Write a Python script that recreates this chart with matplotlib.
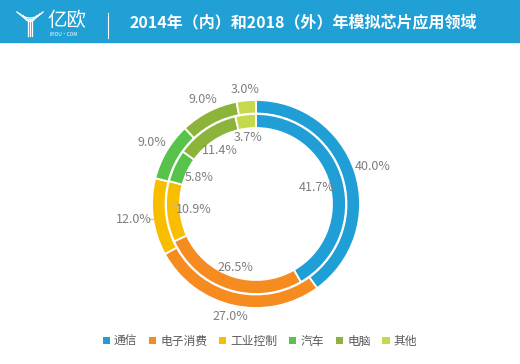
import numpy as np
import matplotlib
matplotlib.use("Agg")
import matplotlib.pyplot as plt
from matplotlib.patches import Rectangle, Patch
from matplotlib.lines import Line2D

plt.rcParams['font.family'] = ['Noto Sans CJK SC', 'DejaVu Sans']

categories = ['通信', '电子消费', '工业控制', '汽车', '电脑', '其他']
outer_2018 = [40.0, 27.0, 12.0, 9.0, 9.0, 3.0]
inner_2014 = [41.7, 26.5, 10.9, 5.8, 11.4, 3.7]
colors = ['#1f9fd6', '#f68b1f', '#f9bd00', '#58c34a', '#8db43a', '#c6d84b']
title = '2014年（内）和2018（外）年模拟芯片应用领域'

W, H = 520, 364
fig = plt.figure(figsize=(W / 100, H / 100), dpi=100)
fig.patch.set_facecolor('white')
ax = fig.add_axes([0, 0, 1, 1])

cx, cy = 256, H - 204
R_out = 104
w_out = 13.5
R_in = R_out - w_out - 0.5
w_in = 14

ax.pie(outer_2018, radius=R_out, center=(cx, cy), colors=colors, startangle=90,
       counterclock=False, wedgeprops=dict(width=w_out, edgecolor='white', linewidth=1.3))
ax.pie(inner_2014, radius=R_in, center=(cx, cy), colors=colors, startangle=90,
       counterclock=False, wedgeprops=dict(width=w_in, edgecolor='white', linewidth=1.3))
ax.set_xlim(0, W)
ax.set_ylim(0, H)
ax.set_aspect('auto')
ax.axis('off')

lab_col = '#7f7f7f'
fs = 9

def mids(vals):
    c = np.cumsum([0] + list(vals))
    return [(c[i] + c[i + 1]) / 2 / 100 * 360 for i in range(len(vals))]

# outer labels
for i, (v, a) in enumerate(zip(outer_2018, mids(outer_2018))):
    t = np.radians(a)
    s, c = np.sin(t), np.cos(t)
    r = R_out + 5 + np.hypot(14 * s, 6 * c)
    x, y = cx + r * s, cy + r * c
    ax.text(x, y, f'{v:.1f}%', ha='center', va='center', color=lab_col, fontsize=fs)
    if i == 2:
        ax.add_line(Line2D([x + 15, cx + (R_out - 1) * s], [y, y], color='#bfbfbf', lw=0.8))

# inner labels
for i, (v, a) in enumerate(zip(inner_2014, mids(inner_2014))):
    t = np.radians(a)
    s, c = np.sin(t), np.cos(t)
    r = 70 - 0.5 * np.hypot(16 * s, 6 * c)
    x, y = cx + r * s, cy + r * c
    ax.text(x, y, f'{v:.1f}%', ha='center', va='center', color=lab_col, fontsize=fs)
    if i == 2:
        ax.add_line(Line2D([x - 15, x - 22], [y + 1, y + 5], color='#bfbfbf', lw=0.8))

# header
hdr = '#21a0d5'
ax.add_patch(Rectangle((0, H - 42), W, 42, color=hdr, zorder=5))
# logo: stylised Y
for k, off in enumerate([0, 3, 6]):
    xs = np.linspace(-1, 1, 30)
    ax.plot(30 + xs * (13 - off), H - 12 - 6 * (1 - xs ** 2) - off * 0.6, color='white', lw=1.0, zorder=6)
for dx in [-2, 0, 2]:
    ax.plot([30 + dx, 30 + dx], [H - 20, H - 36], color='white', lw=0.9, zorder=6)
ax.text(47, H - 20, '亿欧', color='white', fontsize=14, ha='left', va='center', zorder=6)
ax.text(50, H - 35, 'IYIOU·COM', color='white', fontsize=3.5, ha='left', va='center', zorder=6)
ax.plot([108, 108], [H - 13, H - 38], color='white', lw=0.8, zorder=6)
ax.text(129, H - 22, title, color='white', fontsize=11.5, fontweight='bold',
        ha='left', va='center', zorder=6)

# legend
handles = [Patch(facecolor=col, edgecolor='none') for col in colors]
leg = fig.legend(handles, categories, loc='center', bbox_to_anchor=(0.5, 1 - 341 / H),
                 ncol=6, frameon=False, fontsize=8.5, handlelength=0.6, handleheight=0.6,
                 handletextpad=0.35, columnspacing=1.0, labelcolor='#595959')

fig.savefig('out.png', dpi=100, facecolor='white')
